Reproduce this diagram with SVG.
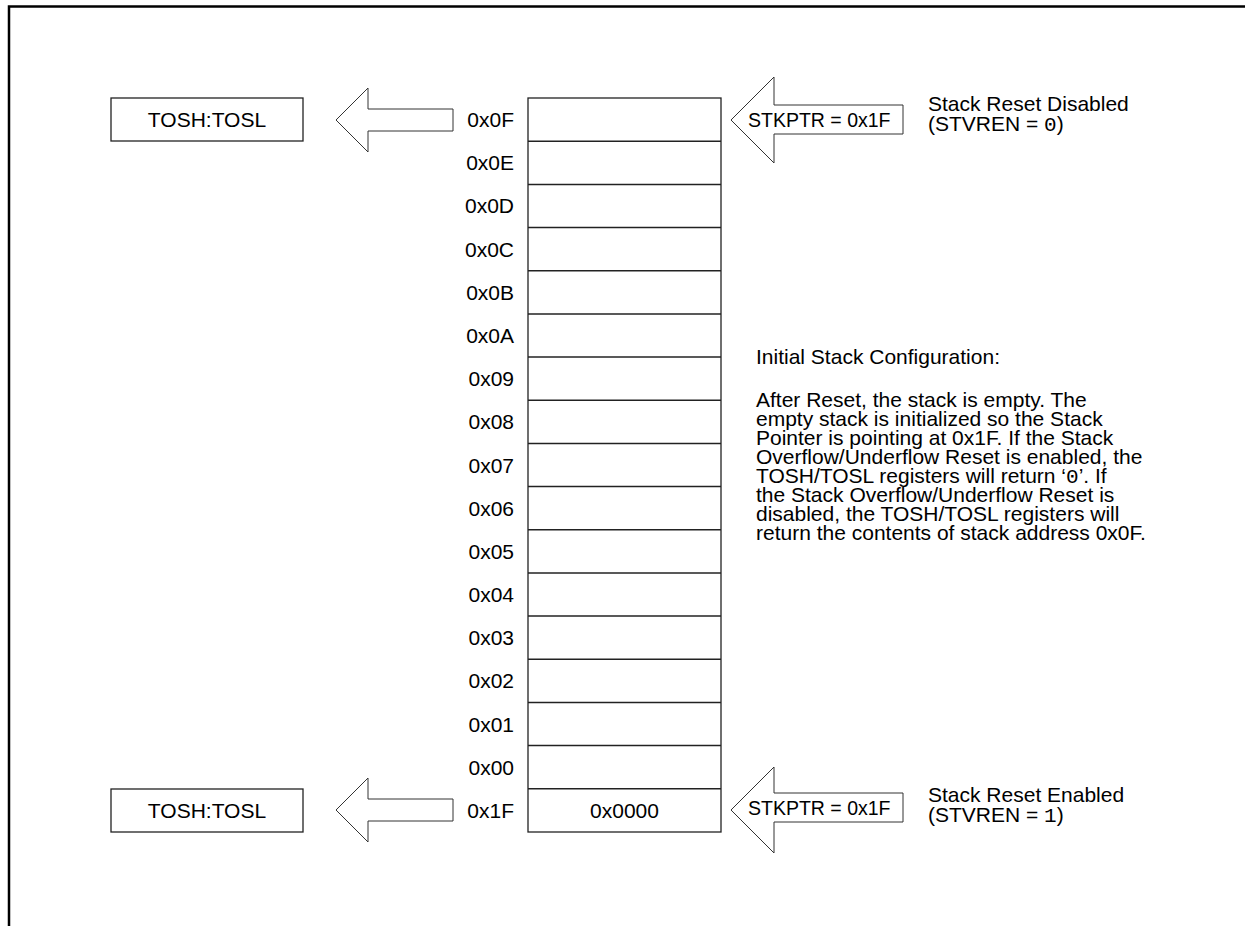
<svg xmlns="http://www.w3.org/2000/svg" width="1245" height="926" viewBox="0 0 1245 926">
<style>
.t{font-family:"Liberation Sans",Arial,sans-serif;font-size:21px;fill:#000}
.s{font-family:"Liberation Sans",Arial,sans-serif;font-size:19.5px;fill:#000}
.m{font-family:"Liberation Mono","Courier New",monospace}
.box{fill:#fff;stroke:#222;stroke-width:1.3}
.arr{fill:#fff;stroke:#333;stroke-width:1}
.row{stroke:#222;stroke-width:1.5}
</style>
<rect width="1245" height="926" fill="#fff"/>
<path d="M9,926 V6.5 H1245" fill="none" stroke="#000" stroke-width="2.5"/>
<g id="stack">
<rect class="box" x="528" y="98" width="193" height="734"/>
<g class="row">
<line x1="528" y1="141.2" x2="721" y2="141.2"/>
<line x1="528" y1="184.4" x2="721" y2="184.4"/>
<line x1="528" y1="227.5" x2="721" y2="227.5"/>
<line x1="528" y1="270.7" x2="721" y2="270.7"/>
<line x1="528" y1="313.9" x2="721" y2="313.9"/>
<line x1="528" y1="357.1" x2="721" y2="357.1"/>
<line x1="528" y1="400.2" x2="721" y2="400.2"/>
<line x1="528" y1="443.4" x2="721" y2="443.4"/>
<line x1="528" y1="486.6" x2="721" y2="486.6"/>
<line x1="528" y1="529.8" x2="721" y2="529.8"/>
<line x1="528" y1="572.9" x2="721" y2="572.9"/>
<line x1="528" y1="616.1" x2="721" y2="616.1"/>
<line x1="528" y1="659.3" x2="721" y2="659.3"/>
<line x1="528" y1="702.5" x2="721" y2="702.5"/>
<line x1="528" y1="745.6" x2="721" y2="745.6"/>
<line x1="528" y1="788.8" x2="721" y2="788.8"/>
</g>
<text class="t" x="624.5" y="818" text-anchor="middle">0x0000</text>
<g text-anchor="end">
<text class="t" x="514" y="127">0x0F</text>
<text class="t" x="514" y="170.3">0x0E</text>
<text class="t" x="514" y="213.4">0x0D</text>
<text class="t" x="514" y="256.6">0x0C</text>
<text class="t" x="514" y="299.8">0x0B</text>
<text class="t" x="514" y="343">0x0A</text>
<text class="t" x="514" y="386.2">0x09</text>
<text class="t" x="514" y="429.3">0x08</text>
<text class="t" x="514" y="472.5">0x07</text>
<text class="t" x="514" y="515.7">0x06</text>
<text class="t" x="514" y="558.9">0x05</text>
<text class="t" x="514" y="602">0x04</text>
<text class="t" x="514" y="645.2">0x03</text>
<text class="t" x="514" y="688.4">0x02</text>
<text class="t" x="514" y="731.6">0x01</text>
<text class="t" x="514" y="774.7">0x00</text>
<text class="t" x="514" y="817.9">0x1F</text>
</g>
</g>
<g id="tosh-top">
<rect class="box" x="111" y="98" width="192" height="43"/>
<text class="t" x="207" y="127" text-anchor="middle">TOSH:TOSL</text>
</g>
<g id="tosh-bottom">
<rect class="box" x="111" y="789" width="192" height="43"/>
<text class="t" x="207" y="818" text-anchor="middle">TOSH:TOSL</text>
</g>
<g id="connectors">
<polygon class="arr" points="336,120 368,88 368,109 453,109 453,131 368,131 368,152"/>
<polygon class="arr" points="336,810 368,778 368,799 453,799 453,821 368,821 368,842"/>
<polygon class="arr" points="731,120 774,77 774,105 903,105 903,134 774,134 774,163"/>
<polygon class="arr" points="731,810 774,767 774,793 903,793 903,822 774,822 774,853"/>
</g>
<g id="stkptr-top">
<text class="s" x="748" y="126.5">STKPTR = 0x1F</text>
</g>
<g id="stkptr-bottom">
<text class="s" x="748" y="814.5">STKPTR = 0x1F</text>
</g>
<g id="label-disabled">
<text class="t" x="928" y="111">Stack Reset Disabled</text>
<text class="t" x="928" y="131">(STVREN = <tspan class="m">0</tspan>)</text>
</g>
<g id="label-enabled">
<text class="t" x="928" y="802">Stack Reset Enabled</text>
<text class="t" x="928" y="822">(STVREN = <tspan class="m">1</tspan>)</text>
</g>
<g id="description">
<text class="t" x="756" y="364">Initial Stack Configuration:</text>
<text class="t" x="756" y="407">After Reset, the stack is empty. The</text>
<text class="t" x="756" y="426">empty stack is initialized so the Stack</text>
<text class="t" x="756" y="445">Pointer is pointing at 0x1F. If the Stack</text>
<text class="t" x="756" y="464">Overflow/Underflow Reset is enabled, the</text>
<text class="t" x="756" y="483">TOSH/TOSL registers will return ‘<tspan class="m">0</tspan>’. If</text>
<text class="t" x="756" y="502">the Stack Overflow/Underflow Reset is</text>
<text class="t" x="756" y="521">disabled, the TOSH/TOSL registers will</text>
<text class="t" x="756" y="540">return the contents of stack address 0x0F.</text>
</g>
</svg>
